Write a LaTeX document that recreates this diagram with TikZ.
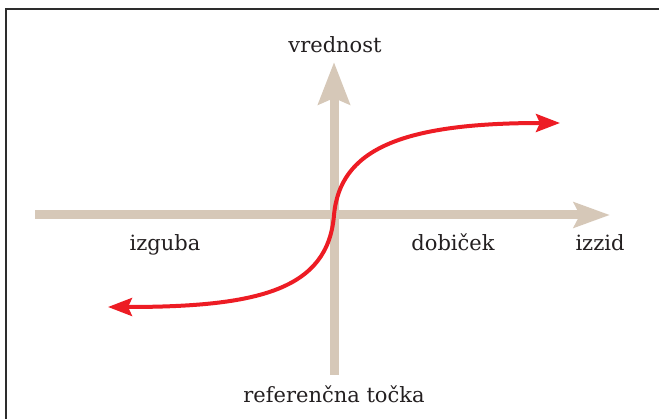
\documentclass[tikz,border=0pt]{standalone}
\usepackage{fontspec}
\setmainfont{DejaVu Serif}
\usetikzlibrary{arrows.meta}
\definecolor{axisbeige}{RGB}{214,200,184}
\definecolor{curvered}{RGB}{237,28,36}
\definecolor{textgray}{RGB}{35,31,32}
\definecolor{framegray}{RGB}{45,45,45}

\begin{document}
\begin{tikzpicture}[
  x=1pt, y=-1pt,
  axisline/.style={draw=axisbeige, line width=9pt},
  curve/.style={draw=curvered, line width=4pt,
    {Stealth[length=24pt, width=18pt, inset=4pt]}-{Stealth[length=24pt, width=18pt, inset=4pt]}},
  lbl/.style={font=\fontsize{21}{25}\selectfont, text=textgray, anchor=base, inner sep=0pt},
]
\useasboundingbox (0,0) rectangle (659,419);
% frame
\draw[framegray, line width=2.5pt] (6,419) -- (6,9) -- (659,9);

% axes
\coordinate (o) at (334,215);
\coordinate (xl) at (35,215);
\coordinate (xr) at (610,215);
\coordinate (yb) at (334,375);
\coordinate (yt) at (334,62);
\draw[axisline, -{Stealth[length=36pt, width=25pt, inset=6pt]}] (xl) -- (xr);
\draw[axisline, -{Stealth[length=42pt, width=31pt, inset=6pt]}] (yb) -- (yt);

% value curve
\coordinate (lossend) at (108,307);
\coordinate (gainend) at (560,123);
\draw[curve] (lossend) .. controls +(150,0) and +(-6,75) .. (o)
  .. controls +(6,-65) and +(-160,0) .. (gainend);

% labels
\node[lbl] (value) at (335,53) {vrednost};
\node[lbl] (loss) at (165,251) {izguba};
\node[lbl] (gain) at (453,251) {dobiček};
\node[lbl] (outcome) at (600,251) {izzid};
\node[lbl] (ref) at (334,403) {referenčna točka};
\end{tikzpicture}
\end{document}
